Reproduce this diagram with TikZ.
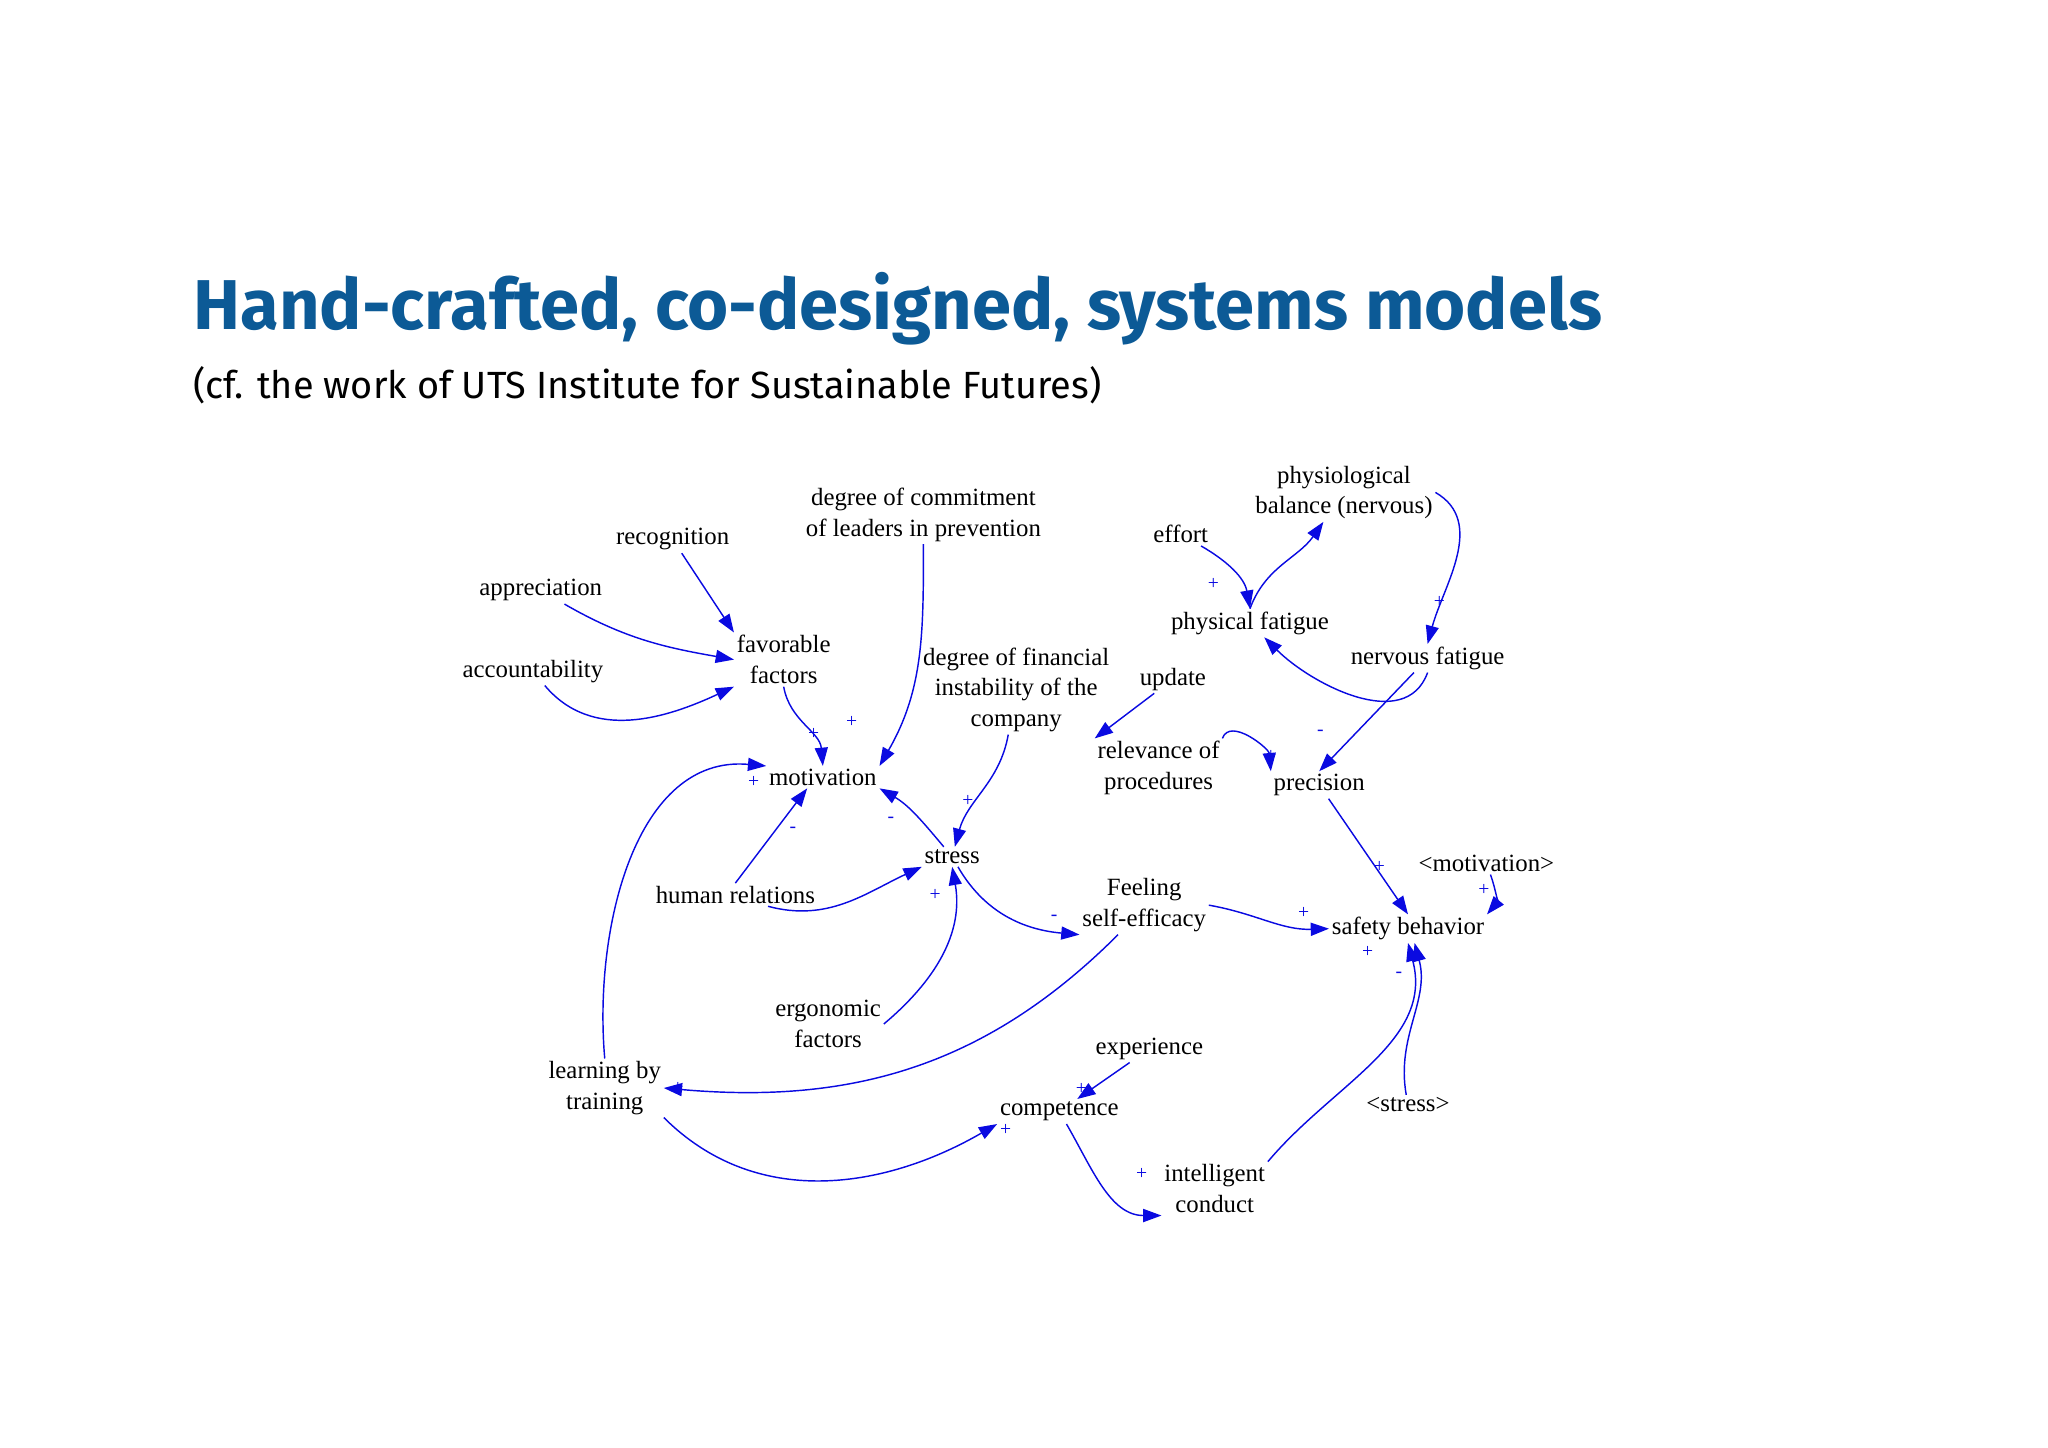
\documentclass[tikz,border=0pt]{standalone}
\usepackage{fontspec}
\setmainfont{Liberation Serif}
\newfontfamily\titlefont{Fira Sans}
\usetikzlibrary{arrows.meta}
\definecolor{lnk}{RGB}{10,10,225}
\definecolor{ttl}{RGB}{12,90,150}
\tikzset{
 lab/.style={align=center,inner sep=2pt,font=\fontsize{19}{23.5}\selectfont},
 arr/.style={draw=lnk,line width=1.1pt,-{Triangle[length=14pt,width=10pt]}},
 sg/.style={text=lnk,font=\fontsize{15}{15}\selectfont,inner sep=0pt}
}
\begin{document}
\begin{tikzpicture}[x=1pt,y=1pt]
\useasboundingbox (0,0) rectangle (1568,-1108);
\node[anchor=west,text=ttl,font=\titlefont\bfseries\fontsize{54}{60}\selectfont,inner sep=0pt] (title) at (148,-236) {Hand-crafted, co-designed, systems models};
\node[anchor=west,font=\titlefont\fontsize{29}{34}\selectfont,inner sep=0pt] (sub) at (148,-295) {(cf. the work of UTS Institute for Sustainable Futures)};

\node[lab] (rec) at (515,-413) {recognition};
\node[lab] (app) at (414,-452) {appreciation};
\node[lab] (acc) at (408,-514) {accountability};
\node[lab] (fav) at (600,-505) {favorable\\factors};
\node[lab] (com) at (707,-394) {degree of commitment\\of leaders in prevention};
\node[lab] (mot) at (630,-595) {motivation};
\node[lab] (fin) at (778,-528) {degree of financial\\instability of the\\company};
\node[lab] (str) at (729,-656) {stress};
\node[lab] (hr) at (563,-685) {human relations};
\node[lab] (erg) at (634,-784) {ergonomic\\factors};
\node[lab] (self) at (876,-693) {Feeling\\self-efficacy};
\node[lab] (lrn) at (463,-833) {learning by\\training};
\node[lab] (comp) at (811,-851) {competence};
\node[lab] (exp) at (880,-803) {experience};
\node[lab] (int) at (930,-910) {intelligent\\conduct};
\node[lab] (eff) at (904,-409) {effort};
\node[lab] (phys) at (1029,-377) {physiological\\balance (nervous)};
\node[lab] (pf) at (957,-477) {physical fatigue};
\node[lab] (nf) at (1093,-504) {nervous fatigue};
\node[lab] (upd) at (898,-520) {update};
\node[lab] (rel) at (887,-588) {relevance of\\procedures};
\node[lab] (prec) at (1010,-601) {precision};
\node[lab] (mref) at (1138,-661) {<motivation>};
\node[lab] (saf) at (1078,-711) {safety behavior};
\node[lab] (sref) at (1078,-846) {<stress>};

\draw[arr] (rec) -- (fav.north west);
\draw[arr] (app) to[out=-30,in=170] (fav.west);
\draw[arr] (acc) to[out=-50,in=205] (fav.south west);
\draw[arr] (fav.south) to[out=-80,in=95] (mot.north);
\draw[arr] (com) to[out=-90,in=60] (mot.north east);
\draw[arr] (lrn.north) to[out=95,in=175] (mot.north west);
\draw[arr] (hr.north) -- ([xshift=-12pt]mot.south);
\draw[arr] (str) to[out=130,in=-30] (mot.south east);
\draw[arr] (fin) to[out=-100,in=75] (str);
\draw[arr] ([xshift=25pt]hr.south) to[out=-15,in=205] (str.south west);
\draw[arr] (erg.east) to[out=40,in=-80] (str.south);
\draw[arr] (str) to[out=-60,in=175] (self.south west);
\draw[arr] ([xshift=-20pt]self.south) to[out=-135,in=-5] (lrn.east);
\draw[arr] (self.east) to[out=-10,in=182] (saf.west);
\draw[arr] (lrn.south east) to[out=-45,in=210] (comp.south west);
\draw[arr] (exp) -- (comp);
\draw[arr] (comp) to[out=-60,in=180] (int.south west);
\draw[arr] (int.north east) to[out=50,in=-75] (saf.south);
\draw[arr] (sref) to[out=100,in=-75] ([xshift=5pt]saf.south);
\draw[arr] (mref) to[out=-70,in=50] (saf.north east);
\draw[arr] (prec) -- (saf.north);
\draw[arr] (eff) to[out=-30,in=100] (pf.north);
\draw[arr] (pf.north) to[out=70,in=235] (phys);
\draw[arr] (phys.east) to[out=-30,in=75] (nf.north);
\draw[arr] (nf.south) to[out=-110,in=-45] (pf);
\draw[arr] (nf) -- (prec.north);
\draw[arr] (upd) -- (rel.north west);
\draw[arr] (rel.north east) to[out=70,in=95] (prec.north west);

\node[sg] (s1) at (623,-562) {+};
\node[sg] (s2) at (652,-553) {+};
\node[sg] (s3) at (577,-599) {+};
\node[sg] (s4) at (607,-635) {-};
\node[sg] (s5) at (682,-628) {-};
\node[sg] (s6) at (741,-613) {+};
\node[sg] (s7) at (716,-685) {+};
\node[sg] (s8) at (807,-703) {-};
\node[sg] (s9) at (998,-699) {+};
\node[sg] (s10) at (519,-833) {+};
\node[sg] (s11) at (770,-865) {+};
\node[sg] (s12) at (828,-834) {+};
\node[sg] (s13) at (874,-899) {+};
\node[sg] (s14) at (1047,-729) {+};
\node[sg] (s15) at (1071,-746) {-};
\node[sg] (s16) at (1136,-681) {+};
\node[sg] (s17) at (1056,-664) {+};
\node[sg] (s18) at (929,-447) {+};
\node[sg] (s19) at (1102,-461) {+};
\node[sg] (s20) at (1011,-561) {-};
\node[sg] (s21) at (973,-579) {+};
\end{tikzpicture}
\end{document}
